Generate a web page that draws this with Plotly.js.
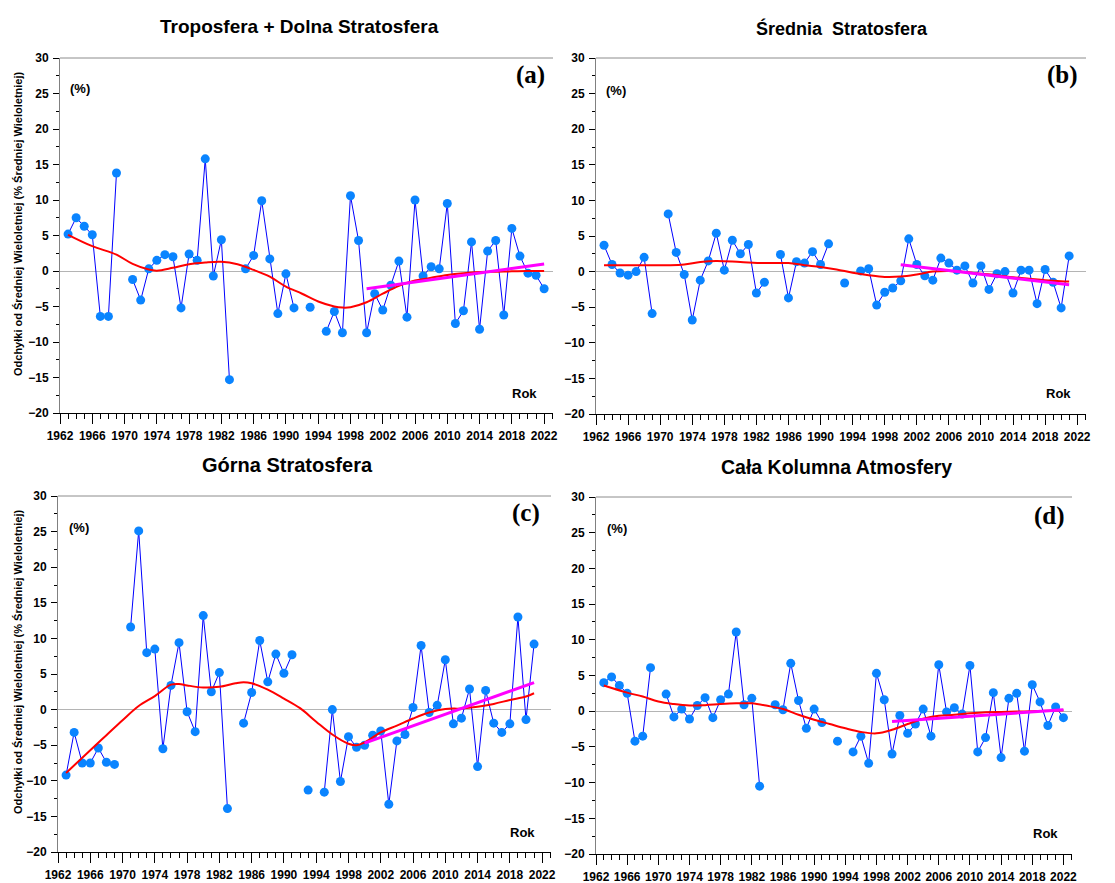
<!DOCTYPE html>
<html>
<head>
<meta charset="utf-8">
<script src="https://cdn.plot.ly/plotly-3.0.1.min.js"></script>
<style>html,body{margin:0;padding:0;background:#fff;}</style>
</head>
<body>
<div id="chart" style="width:1115px;height:883px;"></div>
<script>
// ---------------- DATA ----------------
const years = [];
for (let y = 1963; y <= 2022; y++) years.push(y);

// (a) Troposfera + Dolna Stratosfera
const valuesA = [5.2, 7.5, 6.3, 5.1, -6.4, -6.4, 13.8, null, -1.2, -4.1,
  0.3, 1.5, 2.3, 2.0, -5.2, 2.4, 1.5, 15.8, -0.7, 4.4,
  -15.3, null, 0.3, 2.2, 9.9, 1.7, -6.0, -0.4, -5.2, null,
  -5.1, null, -8.5, -5.7, -8.7, 10.6, 4.3, -8.7, -3.2, -5.5,
  -2.0, 1.4, -6.5, 10.0, -0.7, 0.6, 0.3, 9.5, -7.4, -5.6,
  4.1, -8.2, 2.8, 4.3, -6.2, 6.0, 2.1, -0.3, -0.6, -2.5];
// (b) Średnia Stratosfera
const valuesB = [3.7, 1.0, -0.2, -0.5, 0.0, 2.0, -5.9, null, 8.1, 2.7,
  -0.4, -6.8, -1.2, 1.5, 5.4, 0.2, 4.4, 2.5, 3.8, -3.0,
  -1.5, null, 2.4, -3.7, 1.4, 1.2, 2.8, 1.0, 3.9, null,
  -1.6, null, 0.1, 0.4, -4.7, -2.9, -2.3, -1.3, 4.6, 1.0,
  -0.6, -1.2, 1.9, 1.2, 0.2, 0.8, -1.6, 0.8, -2.5, -0.3,
  0.0, -3.0, 0.2, 0.2, -4.5, 0.3, -1.5, -5.1, 2.2, null];
// (c) Górna Stratosfera
const valuesC = [-9.2, -3.2, -7.5, -7.5, -5.4, -7.4, -7.7, null, 11.6, 25.1,
  8.0, 8.5, -5.5, 3.4, 9.4, -0.3, -3.1, 13.2, 2.5, 5.2,
  -13.9, null, -1.9, 2.4, 9.7, 3.9, 7.8, 5.1, 7.7, null,
  -11.3, null, -11.6, 0.0, -10.1, -3.8, -5.3, -5.0, -3.6, -3.0,
  -13.3, -4.4, -3.5, 0.3, 9.0, -0.4, 0.6, 7.0, -2.0, -1.2,
  2.9, -8.0, 2.7, -1.9, -3.2, -2.0, 13.0, -1.4, 9.2, null];
// (d) Cała Kolumna Atmosfery
const valuesD = [4.0, 4.8, 3.6, 2.5, -4.2, -3.5, 6.1, null, 2.4, -0.8,
  0.3, -1.1, 0.8, 1.9, -0.9, 1.6, 2.4, 11.1, 0.9, 1.8,
  -10.5, null, 0.9, 0.2, 6.7, 1.5, -2.4, 0.3, -1.6, null,
  -4.2, null, -5.7, -3.5, -7.3, 5.3, 1.6, -6.0, -0.6, -3.1,
  -1.8, 0.3, -3.5, 6.5, -0.1, 0.5, -0.4, 6.4, -5.7, -3.7,
  2.6, -6.5, 1.8, 2.5, -5.6, 3.7, 1.3, -2.0, 0.6, -0.9];

// smoothed curves
const smoothYearsA = [1963, 1966, 1969, 1971, 1973, 1974, 1976, 1978, 1980, 1982, 1984, 1986, 1988, 1990, 1992, 1994, 1996, 1997, 1998, 2000, 2002, 2004, 2006, 2008, 2010, 2012, 2014, 2016, 2018, 2020, 2022];
const smoothA = [5.1, 3.5, 2.3, 1.0, 0.2, 0.05, 0.45, 0.95, 1.2, 1.3, 0.95, 0.15, -0.8, -2.2, -3.2, -4.3, -5.0, -5.15, -5.1, -4.4, -3.2, -2.1, -1.35, -0.95, -0.55, -0.3, -0.15, -0.1, -0.05, 0.0, 0.0];
const smoothYearsB = [1963, 1967, 1971, 1973, 1975, 1977, 1980, 1983, 1986, 1988, 1990, 1992, 1994, 1996, 1998, 2000, 2002, 2004, 2006, 2008, 2010, 2012, 2014, 2016, 2018, 2020, 2021];
const smoothB = [0.9, 0.9, 0.9, 1.0, 1.35, 1.5, 1.35, 1.2, 1.2, 0.9, 0.65, 0.3, -0.15, -0.5, -0.75, -0.7, -0.4, 0.0, 0.1, -0.05, -0.3, -0.5, -0.8, -1.0, -1.2, -1.35, -1.4];
const smoothYearsC = [1963, 1966, 1968, 1970, 1972, 1974, 1976, 1977, 1978, 1980, 1982, 1984, 1985, 1986, 1988, 1990, 1992, 1994, 1996, 1998, 1999, 2000, 2002, 2004, 2006, 2008, 2010, 2012, 2014, 2016, 2018, 2020, 2021];
const smoothC = [-8.9, -5.7, -3.6, -1.5, 0.5, 1.9, 3.5, 3.6, 3.4, 3.1, 3.2, 3.7, 3.85, 3.7, 2.8, 1.55, 0.2, -1.7, -3.5, -4.8, -5.0, -4.6, -3.2, -2.25, -1.25, -0.4, 0.1, 0.15, 0.4, 0.8, 1.35, 1.85, 2.3];
const smoothYearsD = [1963, 1966, 1968, 1970, 1972, 1974, 1976, 1978, 1980, 1982, 1984, 1986, 1988, 1990, 1992, 1994, 1996, 1998, 2000, 2002, 2004, 2006, 2008, 2010, 2012, 2014, 2016, 2018, 2020, 2022];
const smoothD = [3.6, 2.6, 2.05, 1.35, 1.0, 0.8, 0.85, 1.0, 1.1, 1.1, 0.75, 0.3, -0.5, -1.2, -1.8, -2.4, -2.9, -3.1, -2.6, -1.8, -1.05, -0.65, -0.5, -0.3, -0.15, -0.1, -0.05, 0.0, 0.05, 0.15];

// linear trends 2000 onwards
const trendYearsA = [2000, 2022], trendA = [-2.5, 1.0];
const trendYearsB = [2000, 2021], trendB = [0.95, -1.85];
const trendYearsC = [2000, 2021], trendC = [-4.7, 3.8];
const trendYearsD = [2000, 2022], trendD = [-1.45, 0.2];

const titles = ["Troposfera + Dolna Stratosfera", "Średnia\u00a0\u00a0Stratosfera", "Górna Stratosfera", "Cała Kolumna Atmosfery"];
const panelLabels = ["(a)", "(b)", "(c)", "(d)"];
const yTitle = "Odchyłki od Średniej Wieloletniej (% Średniej Wieloletniej)";
const unitLabel = "(%)";
const xLabel = "Rok";

// ---------------- LAYOUT ----------------
const W = 1115, H = 883;
const FONT = "Liberation Sans, Arial, sans-serif";
const px = v => v / W;
const py = v => 1 - v / H;

const panels = [
  { id: "", vals: valuesA, sy: smoothYearsA, s: smoothA, ty: trendYearsA, t: trendA, titleSize: 19,
    box: [60, 553, 58, 413], title: [299, 27], lab: [547, 75], unit: [68, 88], rok: [524, 393], rightLabels: false, leftLabels: true },
  { id: "2", vals: valuesB, sy: smoothYearsB, s: smoothB, ty: trendYearsB, t: trendB, titleSize: 18,
    box: [596, 1086, 58, 414], title: [842, 28], lab: [1080, 75], unit: [604, 90], rok: [1058, 393], rightLabels: true, leftLabels: true },
  { id: "3", vals: valuesC, sy: smoothYearsC, s: smoothC, ty: trendYearsC, t: trendC, titleSize: 20,
    box: [58, 551, 496, 852], title: [287, 465], lab: [542, 513], unit: [67, 527], rok: [522, 832], rightLabels: false, leftLabels: true },
  { id: "4", vals: valuesD, sy: smoothYearsD, s: smoothD, ty: trendYearsD, t: trendD, titleSize: 19.5,
    box: [596, 1072, 497, 854], title: [836, 467], lab: [1067, 516], unit: [605, 528], rok: [1045, 833], rightLabels: true, leftLabels: true }
];

const tickFont = { family: FONT, size: 12, color: "#000", weight: "bold" };
const traces = [];
const layout = {
  width: W, height: H, autosize: false,
  margin: { l: 0, r: 0, t: 0, b: 0 },
  paper_bgcolor: "#fff", plot_bgcolor: "#fff",
  showlegend: false,
  annotations: [], shapes: []
};

panels.forEach((p, i) => {
  const xa = "x" + p.id, ya = "y" + p.id;
  const rightId = String(5 + i);
  const [l, r, t, b] = p.box;

  traces.push({ x: years, y: p.vals, xaxis: xa, yaxis: ya, type: "scatter", mode: "lines+markers",
    connectgaps: false, line: { color: "#0000ff", width: 1 },
    marker: { color: "#0a84ff", size: 9 }, hoverinfo: "x+y" });
  traces.push({ x: p.sy, y: p.s, xaxis: xa, yaxis: ya, type: "scatter", mode: "lines",
    line: { color: "#ff0000", width: 2, shape: "spline", smoothing: 1 }, hoverinfo: "skip" });
  traces.push({ x: p.ty, y: p.t, xaxis: xa, yaxis: ya, type: "scatter", mode: "lines",
    line: { color: "#ff00ff", width: 3 }, hoverinfo: "skip" });

  layout["xaxis" + p.id] = {
    domain: [px(l), px(r)], anchor: ya, range: [1962, 2023.1],
    tick0: 1962, dtick: 4, ticks: "outside", ticklen: 10, tickwidth: 1, tickcolor: "#000",
    minor: { tick0: 1962, dtick: 1, ticks: "outside", ticklen: 5, tickwidth: 1, tickcolor: "#000", showgrid: false },
    showline: true, linecolor: "#000", linewidth: 1, mirror: false,
    showgrid: false, zeroline: false, tickfont: tickFont, ticklabelstandoff: 2, fixedrange: true
  };
  layout["yaxis" + p.id] = {
    domain: [py(b), py(t)], anchor: xa, range: [-20, 30],
    tick0: -20, dtick: 5, ticks: "outside", ticklen: 6, tickwidth: 1, tickcolor: "#000",
    minor: { dtick: 2.5, ticks: "outside", ticklen: 3, tickwidth: 1, tickcolor: "#000", showgrid: false },
    showline: true, linecolor: "#808080", linewidth: 1, mirror: false,
    showgrid: false, zeroline: true, zerolinecolor: "#b4b4b4", zerolinewidth: 1,
    showticklabels: p.leftLabels, tickfont: tickFont, ticklabelstandoff: 2, fixedrange: true
  };
  layout["yaxis" + rightId] = {
    overlaying: ya, anchor: xa, side: "right", range: [-20, 30],
    tick0: -20, dtick: 5, ticks: "outside", ticklen: 6, tickwidth: 1, tickcolor: "#000",
    minor: { dtick: 2.5, ticks: "outside", ticklen: 3, tickwidth: 1, tickcolor: "#000", showgrid: false },
    showline: true, linecolor: "#000", linewidth: 1,
    showgrid: false, zeroline: false,
    showticklabels: p.rightLabels, tickfont: tickFont, ticklabelstandoff: 6, fixedrange: true
  };

  // top border (gray)
  layout.shapes.push({ type: "line", xref: xa + " domain", yref: ya + " domain",
    x0: 0, x1: 1, y0: 1, y1: 1, line: { color: "#8c8c8c", width: 1 } });

  layout.annotations.push({ text: "<b>" + titles[i] + "</b>", xref: "paper", yref: "paper",
    x: px(p.title[0]), y: py(p.title[1]), xanchor: "center", yanchor: "middle", showarrow: false,
    font: { family: FONT, size: p.titleSize, color: "#000" } });
  layout.annotations.push({ text: "<b>" + panelLabels[i] + "</b>", xref: "paper", yref: "paper",
    x: px(p.lab[0]), y: py(p.lab[1]), xanchor: "right", yanchor: "middle", showarrow: false,
    font: { family: "Liberation Serif, Times New Roman, serif", size: 25, color: "#000" } });
  layout.annotations.push({ text: "<b>" + unitLabel + "</b>", xref: "paper", yref: "paper",
    x: px(p.unit[0]), y: py(p.unit[1]), xanchor: "left", yanchor: "middle", showarrow: false,
    font: { family: FONT, size: 13, color: "#000" } });
  layout.annotations.push({ text: "<b>" + xLabel + "</b>", xref: "paper", yref: "paper",
    x: px(p.rok[0]), y: py(p.rok[1]), xanchor: "center", yanchor: "middle", showarrow: false,
    font: { family: FONT, size: 13, color: "#000" } });
});

// y-axis titles for left column
[[18, 224], [18, 662]].forEach(pos => {
  layout.annotations.push({ text: "<b>" + yTitle + "</b>", xref: "paper", yref: "paper",
    x: px(pos[0]), y: py(pos[1]), xanchor: "center", yanchor: "middle", textangle: -90,
    showarrow: false, font: { family: FONT, size: 11, color: "#000" } });
});

Plotly.newPlot("chart", traces, layout, { displayModeBar: false, staticPlot: true });
</script>
</body>
</html>
